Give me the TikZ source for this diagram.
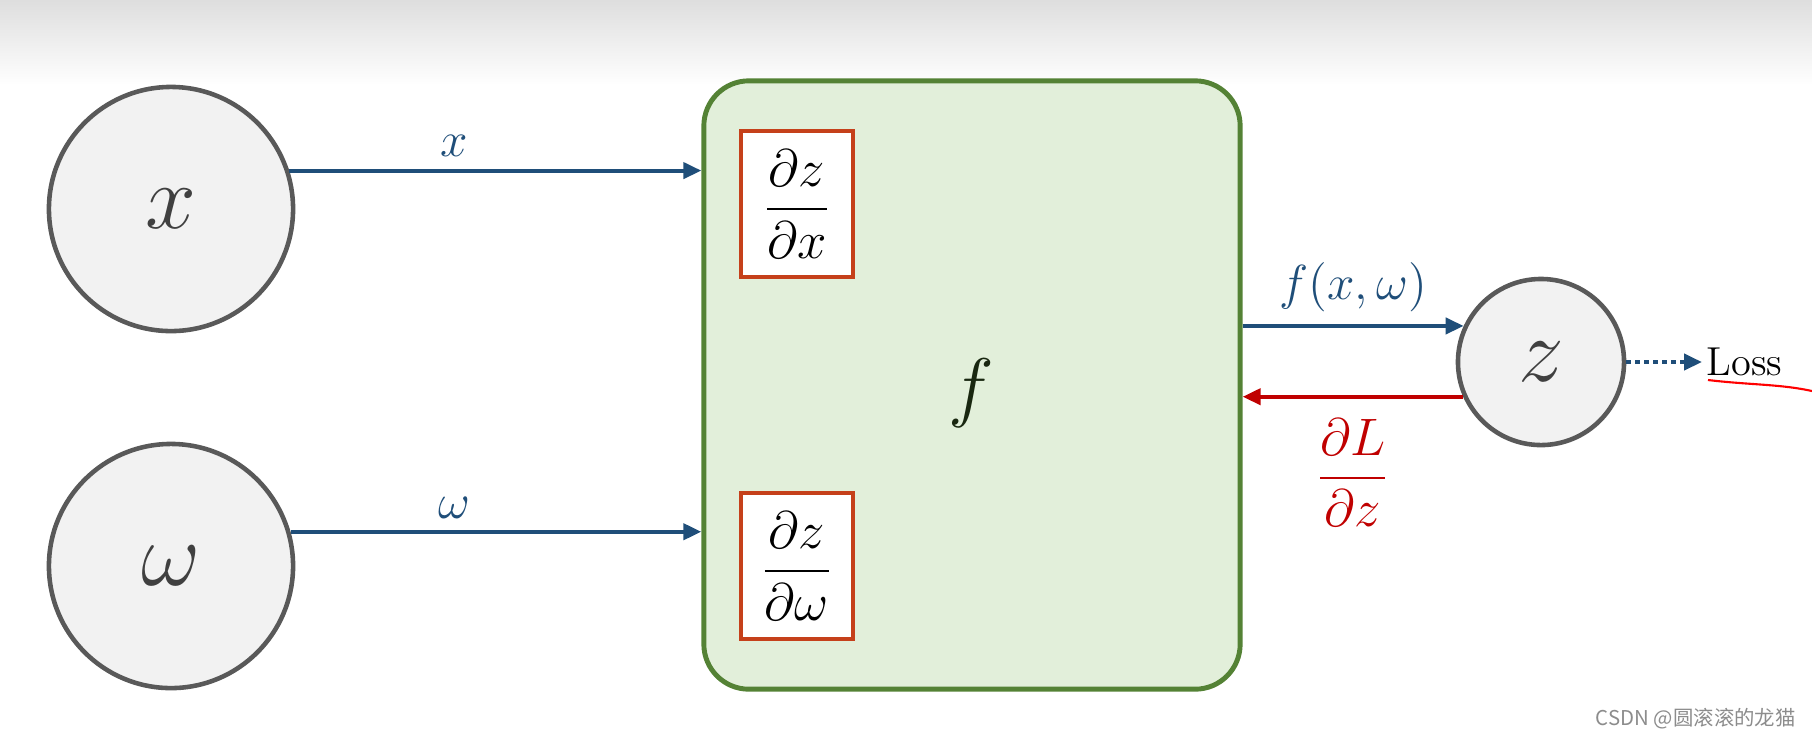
\documentclass[tikz,border=0pt]{standalone}
\usepackage{fix-cm}
\usepackage{fontspec}
\usepackage{amsmath}
\newfontfamily\cjkfont{Noto Sans CJK SC}
\usetikzlibrary{positioning,arrows.meta}

\definecolor{flowblue}{HTML}{1F4E79}
\definecolor{backred}{HTML}{C00000}
\definecolor{boxred}{HTML}{C5401A}
\definecolor{ffill}{HTML}{E2EFDA}
\definecolor{fdraw}{HTML}{548235}
\definecolor{varfill}{HTML}{F2F2F2}
\definecolor{vardraw}{HTML}{595959}

\begin{document}
\begin{tikzpicture}[
        x=0.01cm, y=-0.01cm,
        var/.style={
                circle,
                draw=vardraw,
                fill=varfill,
                line width=1.3pt,
                minimum size=2.44cm,
                inner sep=0pt,
                text=black!75,
                font=\fontsize{26}{30}\selectfont
            },
        func/.style={
                rectangle,
                rounded corners=0.45cm,
                draw=fdraw,
                fill=ffill,
                line width=1.4pt,
                minimum width=5.36cm,
                minimum height=6.08cm
            },
        gradbox/.style={
                rectangle,
                draw=boxred,
                fill=white,
                line width=1.1pt,
                minimum width=1.12cm,
                minimum height=1.46cm,
                inner sep=0pt,
                font=\fontsize{15}{18}\selectfont
            },
        edgelabel/.style = {font=\fontsize{14}{17}\selectfont, text=flowblue},
        flow/.style = {->, draw=flowblue, line width=1.15pt},
        backflow/.style = {->, draw=backred, line width=1.15pt},
        >={Triangle[length=0.18cm,width=0.16cm]}
    ]
    \shade[top color=black!13, bottom color=white] (0,0) rectangle (1812,85);
    \useasboundingbox (0,0) rectangle (1812,738);

    \node[var] (xin) at (171,209) {$x$};
    \node[var] (win) at (171,566) {$\omega$};
    \node[func] (fbox) at (972,385) {};
    \node[text=black!70!fdraw, font=\fontsize{22}{26}\selectfont] (fname) at (971,393) {$f$};
    \node[gradbox] (dzdx) at (797,204) {$\dfrac{\partial z}{\partial x}$};
    \node[gradbox] (dzdw) at (797,566) {$\dfrac{\partial z}{\partial \omega}$};
    \node[var, minimum size=1.66cm] (zout) at (1541,362) {$z$};
    \node[font=\fontsize{11.5}{14}\selectfont, inner sep=0.04cm, anchor=west] (loss) at (1702,362) {Loss};

    \path (xin.18) edge[flow] node[edgelabel, above, pos=.4] {$x$} (xin.18 -| fbox.west);
    \path (win.16) edge[flow] node[edgelabel, above, pos=.4] {$\omega$} (win.16 -| fbox.west);
    \path (zout.155 -| fbox.east) edge[flow] node[edgelabel, above] {$f(x,\omega)$} (zout.155);
    \path (zout.204) edge[backflow] node[below=0.08cm, text=backred, font=\fontsize{15}{18}\selectfont] {$\dfrac{\partial L}{\partial z}$} (zout.204 -| fbox.east);
    \path (zout) edge[flow, dash pattern=on 0.045cm off 0.045cm] (loss);

    % pen mark under Loss
    \draw[red, line width=0.6pt] (1708,380) .. controls (1750,385) and (1780,384) .. (1812,391);

    \node[anchor=east, text=black!45, font=\cjkfont\fontsize{5.8}{7}\selectfont] (mark) at (1808,719) {CSDN @圆滚滚的龙猫};
\end{tikzpicture}
\end{document}
